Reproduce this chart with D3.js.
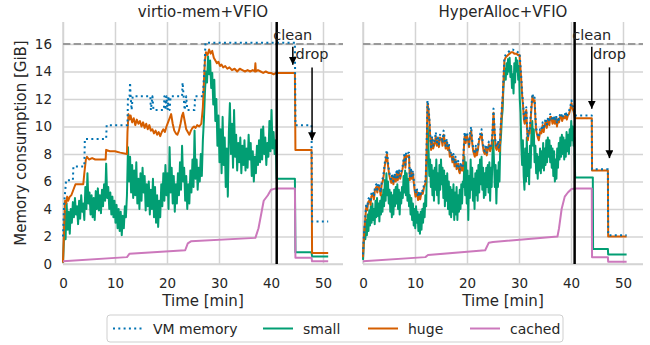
<!DOCTYPE html>
<html>
<head>
<meta charset="utf-8">
<script src="https://cdn.jsdelivr.net/npm/d3@7"></script>
<style>
  body { margin: 0; background: #fff; }
  svg { font-family: "DejaVu Sans", sans-serif; }
</style>
</head>
<body>
<svg id="chart" width="650" height="345"></svg>
<script>
// ---- data ----
const xTicks = [0, 10, 20, 30, 40, 50];
const yTicks = [0, 2, 4, 6, 8, 10, 12, 14, 16];
const titles = ["virtio-mem+VFIO", "HyperAlloc+VFIO"];
const seriesNames = ["VM memory", "small", "huge", "cached"];
const limitGiB = 16;
const cleanTimes = [41.1, 40.7];

// virtio-mem+VFIO, [minutes, GiB]
const L_vm = [[0,2.0],[0.2,4.3],[0.6,6.1],[1.9,6.1],[2.0,7.1],[4.1,7.1],[4.2,9.1],[8.3,9.1],[8.4,10.1],[12.4,10.1],[12.5,12.2],[12.8,12.2],[12.9,13.2],[13.0,12.2],[13.2,11.2],[13.4,12.2],[16.8,12.2],[16.9,11.2],[17.2,12.2],[17.4,11.2],[19.4,11.2],[19.5,12.2],[19.7,11.2],[19.9,12.2],[20.1,11.2],[20.3,12.2],[20.5,11.2],[20.7,12.2],[22.9,12.2],[23.0,13.2],[23.2,12.2],[23.4,11.2],[23.7,12.2],[23.9,11.2],[25.3,11.2],[25.4,12.2],[26.9,12.2],[27.2,14.2],[27.4,16.1],[44.6,16.1],[44.7,10.1],[47.8,10.1],[47.9,3.1],[51.0,3.1]];
const L_small = [[0,0.1],[0.2,2.0],[0.4,3.8],[0.5,1.8],[0.7,4.4],[0.9,2.5],[1.1,3.8],[1.3,2.2],[1.5,4.0],[1.7,3.0],[1.9,4.5],[2.1,3.4],[2.3,4.8],[2.5,3.6],[2.7,4.2],[2.9,2.9],[3.1,4.6],[3.3,3.3],[3.5,5.0],[3.7,3.8],[3.9,4.4],[4.1,3.2],[4.3,5.6],[4.5,4.0],[4.7,6.6],[4.9,4.4],[5.1,5.2],[5.3,3.6],[5.5,5.0],[5.7,3.4],[5.9,4.8],[6.1,3.2],[6.3,5.3],[6.5,4.0],[6.7,5.5],[6.9,3.9],[7.1,5.0],[7.3,3.7],[7.5,5.4],[7.7,4.2],[7.9,5.8],[8.1,4.6],[8.3,7.3],[8.5,4.8],[8.7,5.6],[8.9,4.0],[9.1,5.2],[9.3,3.6],[9.5,4.9],[9.7,3.4],[9.9,4.6],[10.1,3.0],[10.3,4.3],[10.5,2.6],[10.7,4.0],[10.9,2.4],[11.1,3.8],[11.3,2.1],[11.5,3.5],[11.7,2.6],[11.9,4.2],[12.1,3.4],[12.3,5.0],[12.5,8.5],[12.7,6.0],[12.9,7.8],[13.1,5.2],[13.3,7.2],[13.5,4.8],[13.7,6.8],[13.9,5.0],[14.1,7.4],[14.3,4.4],[14.5,6.2],[14.7,4.0],[14.9,6.6],[15.1,4.6],[15.3,7.0],[15.5,5.2],[15.7,6.4],[15.9,3.9],[16.1,5.8],[16.3,4.2],[16.5,6.0],[16.7,3.6],[16.9,5.4],[17.1,4.0],[17.3,6.2],[17.5,3.4],[17.7,5.6],[17.9,3.0],[18.1,5.0],[18.3,2.7],[18.5,4.6],[18.7,3.4],[18.9,5.8],[19.1,4.2],[19.3,6.6],[19.5,4.6],[19.7,7.2],[19.9,5.0],[20.1,6.6],[20.3,4.0],[20.5,8.5],[20.7,5.2],[20.9,7.0],[21.1,4.4],[21.3,6.4],[21.5,3.8],[21.7,5.8],[21.9,4.4],[22.1,6.6],[22.3,5.0],[22.5,7.4],[22.7,5.4],[22.9,8.6],[23.1,6.0],[23.3,7.0],[23.5,4.6],[23.7,6.4],[23.9,4.0],[24.1,5.8],[24.3,4.4],[24.5,6.8],[24.7,5.2],[24.9,7.6],[25.1,5.6],[25.3,9.7],[25.5,6.2],[25.7,7.6],[25.9,5.4],[26.1,7.0],[26.3,6.0],[26.5,8.0],[26.7,6.4],[26.9,9.0],[27.1,10.5],[27.3,12.5],[27.5,14.0],[27.7,13.2],[27.9,15.1],[28.1,13.8],[28.3,14.8],[28.5,12.8],[28.7,13.9],[28.9,11.6],[29.1,13.4],[29.3,10.4],[29.5,12.0],[29.7,8.6],[29.9,10.8],[30.1,7.4],[30.3,9.8],[30.5,6.6],[30.7,10.7],[30.9,7.2],[31.1,9.2],[31.3,5.6],[31.5,8.4],[31.7,4.9],[31.9,9.6],[32.1,11.7],[32.3,8.0],[32.5,10.2],[32.7,7.0],[32.9,11.2],[33.1,7.8],[33.3,9.4],[33.5,6.8],[33.7,8.8],[33.9,7.4],[34.1,9.2],[34.3,6.6],[34.5,8.6],[34.7,7.2],[34.9,9.0],[35.1,6.8],[35.3,8.4],[35.5,7.0],[35.7,9.4],[35.9,7.6],[36.1,8.8],[36.3,6.4],[36.5,8.2],[36.7,6.0],[36.9,7.8],[37.1,6.6],[37.3,8.6],[37.5,7.2],[37.7,9.0],[37.9,7.4],[38.1,9.8],[38.3,7.6],[38.5,10.0],[38.7,8.0],[38.9,9.2],[39.1,7.2],[39.3,8.8],[39.5,7.8],[39.7,10.4],[39.9,8.2],[40.1,11.2],[40.3,8.4],[40.5,9.6],[40.7,8.0],[40.9,9.0],[41.1,6.2],[44.6,6.2],[44.7,0.85],[47.8,0.85],[47.9,0.55],[51.0,0.55]];
const L_huge = [[0,0.1],[0.2,2.5],[0.4,4.6],[0.6,4.4],[0.8,4.9],[1.0,4.6],[1.3,4.9],[1.6,5.0],[2.0,5.4],[2.4,5.8],[3.9,5.8],[4.1,6.6],[4.4,7.6],[4.6,7.8],[5.0,7.6],[5.6,7.7],[6.2,7.6],[7.0,7.6],[8.2,7.6],[8.3,8.3],[9.0,8.2],[10.0,8.2],[11.0,8.1],[12.3,8.0],[12.4,9.6],[12.6,10.9],[12.8,10.5],[13.0,10.8],[13.3,10.3],[13.6,10.6],[13.9,10.1],[14.2,10.5],[14.5,10.2],[14.8,10.4],[15.1,10.0],[15.4,10.3],[15.7,9.9],[16.0,10.2],[16.3,9.8],[16.6,10.1],[16.9,9.7],[17.2,9.8],[17.5,9.5],[17.8,9.7],[18.1,9.4],[18.4,9.6],[18.7,9.3],[19.0,9.6],[19.3,9.8],[19.6,9.6],[19.9,10.0],[20.2,10.3],[20.5,10.6],[20.8,10.9],[21.1,10.2],[21.4,9.7],[21.7,9.5],[22.0,9.4],[22.3,9.7],[22.6,10.2],[22.9,10.8],[23.1,11.0],[23.4,10.4],[23.7,9.8],[24.0,9.6],[24.3,9.4],[24.6,9.7],[24.9,9.9],[25.2,10.0],[25.5,9.9],[25.8,10.1],[26.2,10.0],[26.6,10.2],[26.9,11.4],[27.1,13.2],[27.3,14.8],[27.5,15.4],[27.8,15.2],[28.1,15.6],[28.4,15.3],[28.7,15.5],[29.0,15.0],[29.3,14.8],[29.6,14.6],[29.9,14.7],[30.2,14.4],[30.5,14.5],[30.8,14.3],[31.2,14.4],[31.6,14.2],[32.0,14.3],[32.5,14.1],[33.0,14.2],[33.5,14.0],[34.0,14.2],[34.5,14.1],[35.0,14.0],[35.5,14.1],[36.0,14.0],[36.5,14.1],[36.9,14.0],[37.0,14.6],[37.1,14.0],[37.5,14.1],[38.0,14.0],[38.5,13.9],[39.0,14.0],[39.5,13.9],[40.0,13.9],[40.5,13.8],[41.0,13.9],[44.6,13.9],[44.7,8.3],[47.8,8.3],[47.9,0.8],[51.0,0.8]];
const L_cached = [[0,0.2],[12.3,0.5],[12.8,0.75],[23.5,1.0],[24.0,1.5],[24.6,1.65],[37.0,1.9],[37.6,2.6],[38.6,4.6],[39.4,5.0],[40.0,5.4],[41.0,5.5],[44.6,5.5],[44.7,0.45],[47.8,0.45],[47.9,0.2],[51.0,0.2]];

// HyperAlloc+VFIO, [minutes, GiB]
const R_vm = [[0,0.7],[0.15,2.0],[0.32,2.9],[0.5,3.8],[0.64,4.4],[0.8,4.1],[1.0,4.7],[1.28,4.9],[1.45,4.5],[1.6,5.1],[1.92,5.3],[2.1,4.9],[2.3,5.6],[2.56,5.8],[2.75,5.4],[2.95,5.9],[3.2,5.7],[3.4,5.2],[3.6,6.0],[3.85,6.3],[4.0,6.7],[4.17,7.3],[4.4,7.9],[4.6,8.3],[4.8,7.4],[5.0,6.8],[5.2,6.4],[5.45,6.1],[5.65,6.6],[5.85,6.0],[6.1,6.6],[6.3,6.2],[6.5,6.9],[6.7,6.3],[6.9,6.9],[7.15,6.4],[7.4,6.8],[7.6,7.1],[7.8,7.6],[8.0,8.1],[8.15,7.2],[8.3,8.2],[8.6,8.1],[8.85,8.1],[9.0,6.3],[9.2,7.0],[9.4,6.4],[9.6,6.8],[9.85,5.8],[10.1,5.1],[10.35,5.5],[10.6,4.9],[10.8,5.3],[11.0,4.9],[11.25,5.4],[11.5,5.3],[11.75,5.8],[12.05,6.1],[12.25,8.8],[12.4,11.9],[12.6,11.4],[12.8,10.4],[12.95,9.2],[13.1,8.5],[13.3,9.3],[13.5,8.6],[13.8,9.0],[14.0,9.6],[14.2,8.8],[14.4,9.2],[14.6,8.7],[14.8,9.4],[15.1,9.3],[15.3,8.8],[15.5,9.7],[15.7,9.2],[15.9,8.6],[16.1,9.1],[16.3,8.5],[16.5,8.8],[16.7,8.0],[17.0,8.2],[17.2,7.6],[17.4,8.0],[17.6,7.3],[17.8,7.8],[18.0,7.1],[18.3,7.5],[18.5,6.9],[18.6,6.8],[18.8,7.4],[19.0,7.0],[19.2,7.0],[19.4,8.6],[19.55,9.6],[19.75,9.0],[19.95,9.6],[20.2,9.2],[20.4,8.7],[20.6,9.5],[20.8,10.0],[21.0,9.0],[21.2,8.4],[21.5,8.0],[21.7,8.6],[21.9,8.1],[22.1,8.5],[22.3,9.1],[22.5,9.4],[22.8,9.8],[23.0,8.9],[23.2,8.4],[23.4,8.2],[23.6,8.7],[23.8,8.1],[24.0,8.5],[24.2,8.9],[24.45,8.4],[24.7,8.7],[24.9,9.6],[25.1,11.3],[25.3,9.8],[25.5,8.7],[25.7,8.5],[26.0,9.0],[26.15,8.4],[26.3,8.4],[26.45,9.8],[26.6,10.7],[26.75,11.6],[26.9,12.4],[27.05,13.8],[27.2,15.0],[27.4,15.2],[27.6,15.3],[27.9,15.4],[28.2,15.5],[28.5,15.6],[28.8,15.6],[29.1,15.5],[29.5,15.5],[29.8,15.4],[30.1,15.4],[30.25,14.6],[30.4,13.8],[30.6,12.5],[30.8,11.6],[30.95,10.7],[31.1,10.4],[31.25,11.1],[31.4,11.4],[31.55,10.0],[31.7,9.2],[31.9,9.8],[32.05,9.7],[32.3,11.0],[32.45,11.8],[32.6,12.4],[32.8,12.0],[33.0,12.1],[33.15,10.8],[33.3,9.9],[33.55,9.5],[33.8,9.2],[34.05,9.8],[34.3,9.7],[34.55,10.3],[34.75,9.8],[34.9,10.2],[35.15,10.6],[35.35,10.1],[35.6,10.7],[35.85,10.3],[36.0,10.9],[36.2,10.9],[36.45,10.4],[36.7,10.8],[36.9,10.4],[37.15,10.8],[37.3,10.2],[37.5,10.7],[37.7,10.5],[37.9,10.9],[38.1,11.0],[38.3,10.6],[38.55,10.9],[38.8,10.8],[39.0,11.1],[39.2,10.7],[39.4,11.0],[39.6,11.1],[39.85,11.4],[40.1,11.9],[40.3,11.5],[40.5,11.3],[40.75,10.8],[41.0,10.8],[44.0,10.8],[44.05,6.9],[47.1,6.9],[47.15,2.1],[50.7,2.1]];
const R_small = [[0,0.3],[0.15,1.5],[0.3,2.6],[0.45,1.8],[0.6,3.2],[0.75,2.1],[0.9,3.6],[1.05,2.4],[1.2,3.9],[1.35,2.8],[1.5,4.2],[1.65,3.0],[1.8,4.4],[1.95,3.2],[2.1,4.0],[2.25,2.9],[2.4,4.6],[2.55,3.4],[2.7,4.8],[2.85,3.5],[3.0,4.4],[3.15,3.1],[3.3,4.6],[3.45,3.6],[3.6,5.0],[3.75,3.8],[3.9,5.4],[4.05,4.2],[4.2,6.1],[4.35,4.6],[4.5,6.6],[4.65,5.0],[4.8,6.0],[4.95,4.4],[5.1,5.4],[5.25,3.8],[5.4,5.2],[5.55,3.4],[5.7,5.0],[5.85,3.6],[6.0,5.4],[6.15,4.2],[6.3,5.6],[6.45,4.4],[6.6,5.8],[6.75,4.0],[6.9,5.4],[7.05,3.6],[7.2,5.2],[7.35,4.4],[7.5,5.6],[7.65,4.8],[7.8,6.4],[7.95,5.2],[8.1,6.8],[8.25,5.0],[8.4,6.6],[8.55,4.6],[8.7,6.2],[8.85,4.2],[9.0,5.0],[9.15,3.6],[9.3,4.8],[9.45,3.2],[9.6,4.4],[9.75,2.8],[9.9,4.0],[10.05,2.6],[10.2,4.2],[10.35,3.0],[10.5,3.8],[10.65,2.4],[10.8,3.6],[10.95,2.2],[11.1,3.8],[11.25,2.5],[11.4,4.0],[11.55,3.0],[11.7,4.4],[11.85,3.4],[12.0,5.0],[12.15,4.2],[12.3,7.6],[12.45,10.0],[12.6,8.4],[12.75,6.4],[12.9,7.6],[13.05,5.6],[13.2,7.2],[13.35,5.0],[13.5,6.8],[13.65,4.6],[13.8,7.0],[13.95,5.4],[14.1,7.6],[14.25,5.0],[14.4,6.6],[14.55,4.4],[14.7,7.2],[14.85,5.4],[15.0,7.6],[15.15,5.8],[15.3,7.0],[15.45,4.8],[15.6,6.8],[15.75,4.2],[15.9,6.4],[16.05,4.6],[16.2,6.6],[16.35,4.0],[16.5,6.0],[16.65,3.6],[16.8,5.6],[16.95,3.4],[17.1,5.4],[17.25,3.8],[17.4,5.8],[17.55,3.2],[17.7,5.2],[17.85,3.6],[18.0,5.6],[18.15,3.2],[18.3,5.0],[18.45,3.8],[18.6,5.4],[18.75,4.0],[18.9,5.8],[19.05,4.4],[19.2,6.0],[19.35,5.6],[19.5,7.8],[19.65,5.0],[19.8,7.4],[19.95,4.4],[20.1,6.8],[20.25,3.2],[20.4,6.4],[20.55,4.8],[20.7,7.6],[20.85,5.4],[21.0,7.0],[21.15,4.6],[21.3,6.2],[21.45,4.0],[21.6,6.6],[21.75,5.0],[21.9,6.8],[22.05,4.6],[22.2,7.2],[22.35,5.2],[22.5,7.6],[22.65,5.8],[22.8,7.8],[22.95,5.4],[23.1,7.0],[23.25,4.8],[23.4,6.6],[23.55,5.0],[23.7,7.0],[23.85,5.6],[24.0,7.2],[24.15,5.2],[24.3,7.4],[24.45,4.6],[24.6,7.0],[24.75,5.6],[24.9,8.0],[25.05,9.0],[25.2,7.4],[25.35,5.6],[25.5,7.2],[25.65,4.4],[25.8,6.8],[25.95,5.6],[26.1,7.4],[26.25,6.0],[26.4,8.6],[26.55,9.4],[26.7,10.6],[26.85,11.2],[27.0,12.8],[27.15,13.6],[27.3,14.2],[27.45,13.4],[27.6,14.6],[27.75,13.8],[27.9,14.9],[28.05,14.0],[28.2,15.0],[28.35,13.6],[28.5,14.4],[28.65,12.8],[28.8,13.8],[28.95,12.4],[29.1,14.6],[29.25,13.2],[29.4,15.0],[29.55,14.0],[29.7,14.8],[29.85,13.4],[30.0,14.4],[30.15,12.0],[30.3,11.0],[30.45,8.6],[30.6,7.2],[30.75,9.0],[30.9,6.4],[31.05,5.4],[31.2,8.4],[31.35,6.0],[31.5,9.2],[31.65,6.4],[31.8,8.0],[31.95,5.8],[32.1,8.6],[32.25,7.0],[32.4,9.6],[32.55,10.4],[32.7,8.6],[32.85,9.8],[33.0,7.4],[33.15,8.6],[33.3,6.6],[33.45,8.0],[33.6,6.2],[33.75,7.8],[33.9,6.8],[34.05,8.4],[34.2,6.6],[34.35,8.2],[34.5,7.0],[34.65,8.8],[34.8,6.8],[34.95,8.4],[35.1,7.2],[35.25,9.0],[35.4,7.4],[35.55,9.2],[35.7,7.8],[35.85,9.0],[36.0,7.4],[36.15,8.6],[36.3,7.0],[36.45,8.4],[36.6,6.4],[36.75,8.2],[36.9,6.0],[37.05,7.6],[37.2,6.2],[37.35,8.4],[37.5,7.0],[37.65,8.8],[37.8,7.6],[37.95,9.2],[38.1,7.8],[38.25,9.4],[38.4,8.0],[38.55,9.2],[38.7,7.6],[38.85,9.0],[39.0,7.8],[39.15,9.6],[39.3,8.2],[39.45,9.4],[39.6,8.0],[39.75,9.8],[39.9,8.6],[40.05,10.4],[40.2,9.0],[40.35,10.0],[40.5,8.6],[40.65,9.2],[40.8,6.3],[44.2,6.3],[44.25,1.1],[47.1,1.1],[47.15,0.7],[50.7,0.7]];
const R_huge = [[0,0.5],[0.15,1.8],[0.32,2.7],[0.5,3.6],[0.64,4.2],[0.8,3.9],[1.0,4.5],[1.28,4.65],[1.45,4.3],[1.6,4.9],[1.92,5.1],[2.1,4.7],[2.3,5.4],[2.56,5.6],[2.75,5.2],[2.95,5.7],[3.2,5.5],[3.4,5.0],[3.6,5.8],[3.85,6.1],[4.0,6.5],[4.17,7.1],[4.4,7.6],[4.6,8.0],[4.8,7.2],[5.0,6.6],[5.2,6.2],[5.45,5.9],[5.65,6.4],[5.85,5.8],[6.1,6.4],[6.3,6.0],[6.5,6.6],[6.7,6.1],[6.9,6.7],[7.15,6.2],[7.4,6.6],[7.6,6.9],[7.8,7.4],[8.0,7.8],[8.15,7.0],[8.3,7.9],[8.6,7.8],[8.85,7.9],[9.0,6.1],[9.2,6.8],[9.4,6.2],[9.6,6.6],[9.85,5.6],[10.1,4.9],[10.35,5.3],[10.6,4.65],[10.8,5.1],[11.0,4.7],[11.25,5.2],[11.5,5.1],[11.75,5.6],[12.05,5.9],[12.25,8.5],[12.4,11.7],[12.6,11.2],[12.8,10.2],[12.95,9.0],[13.1,8.3],[13.3,9.1],[13.5,8.4],[13.8,8.8],[14.0,9.3],[14.2,8.6],[14.4,9.0],[14.6,8.5],[14.8,9.2],[15.1,9.1],[15.3,8.6],[15.5,9.4],[15.7,9.0],[15.9,8.4],[16.1,8.9],[16.3,8.3],[16.5,8.6],[16.7,7.8],[17.0,8.0],[17.2,7.4],[17.4,7.8],[17.6,7.1],[17.8,7.6],[18.0,6.9],[18.3,7.3],[18.5,6.7],[18.6,6.6],[18.8,7.2],[19.0,6.8],[19.2,6.8],[19.4,8.4],[19.55,9.3],[19.75,8.8],[19.95,9.4],[20.2,9.0],[20.4,8.5],[20.6,9.3],[20.8,9.7],[21.0,8.8],[21.2,8.2],[21.5,7.8],[21.7,8.4],[21.9,7.9],[22.1,8.3],[22.3,8.9],[22.5,9.2],[22.8,9.5],[23.0,8.7],[23.2,8.2],[23.4,8.0],[23.6,8.5],[23.8,7.9],[24.0,8.3],[24.2,8.7],[24.45,8.2],[24.7,8.5],[24.9,9.4],[25.1,11.0],[25.3,9.6],[25.5,8.5],[25.7,8.3],[26.0,8.8],[26.15,8.2],[26.3,8.2],[26.45,9.6],[26.6,10.5],[26.75,11.4],[26.9,12.2],[27.05,13.6],[27.2,14.8],[27.4,15.0],[27.6,15.1],[27.9,15.2],[28.2,15.3],[28.5,15.4],[28.8,15.4],[29.1,15.3],[29.5,15.3],[29.8,15.2],[30.1,15.2],[30.25,14.4],[30.4,13.6],[30.6,12.3],[30.8,11.4],[30.95,10.5],[31.1,10.2],[31.25,10.9],[31.4,11.2],[31.55,9.8],[31.7,9.0],[31.9,9.6],[32.05,9.5],[32.3,10.8],[32.45,11.6],[32.6,12.2],[32.8,11.8],[33.0,11.9],[33.15,10.6],[33.3,9.7],[33.55,9.3],[33.8,9.0],[34.05,9.6],[34.3,9.5],[34.55,10.1],[34.75,9.6],[34.9,10.0],[35.15,10.4],[35.35,9.9],[35.6,10.5],[35.85,10.1],[36.0,10.7],[36.2,10.7],[36.45,10.2],[36.7,10.6],[36.9,10.2],[37.15,10.6],[37.3,10.0],[37.5,10.5],[37.7,10.3],[37.9,10.7],[38.1,10.8],[38.3,10.4],[38.55,10.7],[38.8,10.6],[39.0,10.9],[39.2,10.5],[39.4,10.8],[39.6,10.9],[39.85,11.2],[40.1,11.7],[40.3,11.3],[40.5,11.1],[40.75,10.6],[41.0,10.6],[44.0,10.6],[44.05,6.8],[47.1,6.8],[47.15,2.0],[50.7,2.0]];
const R_cached = [[0,0.2],[12.0,0.5],[12.5,0.65],[23.5,1.0],[24.2,1.55],[25.0,1.6],[37.4,2.0],[37.7,2.6],[38.2,4.0],[38.8,4.9],[39.4,5.2],[40.1,5.45],[41.0,5.5],[44.0,5.5],[44.05,0.5],[47.1,0.5],[47.15,0.17],[50.7,0.17]];

// annotations: label, time, arrow start / tip in GiB
const L_notes = [["clean", 44.2, 15.8, 14.5], ["drop", 47.9, 14.3, 9.0]];
const R_notes = [["clean", 44.0, 15.8, 11.3], ["drop", 47.4, 14.3, 7.7]];

// ---- drawing ----
const colors = { vm: "#0173b2", small: "#029e73", huge: "#d55e00", cached: "#cc78bc" };
const txt = "#262626", grid = "#d4d4d4";
const svg = d3.select("#chart");
const yTop = 22, yBottom = 264, panelW = 280;

svg.append("defs").append("marker")
  .attr("id", "head").attr("viewBox", "0 0 10 10")
  .attr("refX", 10).attr("refY", 5)
  .attr("markerUnits", "userSpaceOnUse")
  .attr("markerWidth", 8).attr("markerHeight", 8)
  .attr("orient", "auto")
  .append("path").attr("d", "M0,0 L10,5 L0,10 z").attr("fill", "#000");

const y = d3.scaleLinear().domain([0, 17.6]).range([yBottom, yTop]);

const panels = [
  { left: 63, title: titles[0], vm: L_vm, small: L_small, huge: L_huge, cached: L_cached, clean: cleanTimes[0], notes: L_notes, yLabels: true },
  { left: 363, title: titles[1], vm: R_vm, small: R_small, huge: R_huge, cached: R_cached, clean: cleanTimes[1], notes: R_notes, yLabels: false }
];

panels.forEach(p => {
  const x = d3.scaleLinear().domain([0, 53.85]).range([p.left, p.left + panelW]);
  const g = svg.append("g");

  // grid via axes
  const gx = g.append("g").attr("transform", `translate(0,${yBottom})`)
    .call(d3.axisBottom(x).tickValues(xTicks).tickSize(-(yBottom - yTop)).tickPadding(14));
  const gy = g.append("g").attr("transform", `translate(${p.left},0)`)
    .call(d3.axisLeft(y).tickValues(yTicks).tickSize(-panelW).tickPadding(11)
      .tickFormat(p.yLabels ? d3.format("d") : () => ""));
  [gx, gy].forEach(a => {
    a.select(".domain").remove();
    a.selectAll(".tick line").attr("stroke", grid).attr("stroke-width", 1.5);
    a.selectAll(".tick text").attr("fill", txt).style("font-size", "13.5px")
      .style("font-family", "DejaVu Sans");
  });
  // spines
  g.append("line").attr("x1", p.left).attr("x2", p.left).attr("y1", yTop).attr("y2", yBottom)
    .attr("stroke", grid).attr("stroke-width", 1.5);
  g.append("line").attr("x1", p.left).attr("x2", p.left + panelW).attr("y1", yBottom).attr("y2", yBottom)
    .attr("stroke", grid).attr("stroke-width", 1.5);

  // 16 GiB limit
  g.append("line").attr("x1", p.left).attr("x2", p.left + panelW)
    .attr("y1", y(limitGiB)).attr("y2", y(limitGiB))
    .attr("stroke", "#9a9a9a").attr("stroke-width", 2).attr("stroke-dasharray", "7.4,3.2");

  const line = d3.line().x(d => x(d[0])).y(d => y(d[1]));
  const draw = (data, c, dash) => g.append("path").datum(data).attr("d", line)
    .attr("fill", "none").attr("stroke", c).attr("stroke-width", 2)
    .attr("stroke-linejoin", "round")
    .attr("stroke-dasharray", dash || null);
  draw(p.small, colors.small);
  draw(p.huge, colors.huge);
  draw(p.cached, colors.cached);
  draw(p.vm, colors.vm, "2,3.3");

  // clean marker
  g.append("line").attr("x1", x(p.clean)).attr("x2", x(p.clean))
    .attr("y1", yTop).attr("y2", yBottom).attr("stroke", "#000").attr("stroke-width", 2.5);

  // annotations
  p.notes.forEach(([label, t, from, tip], i) => {
    g.append("text").attr("x", x(t)).attr("y", i === 0 ? 40 : 59)
      .attr("text-anchor", "middle").attr("fill", txt)
      .style("font-size", "14.5px").text(label);
    g.append("line").attr("x1", x(t)).attr("x2", x(t))
      .attr("y1", y(from)).attr("y2", y(tip))
      .attr("stroke", "#000").attr("stroke-width", 1.5)
      .attr("marker-end", "url(#head)");
  });

  // titles & axis labels
  g.append("text").attr("x", p.left + panelW / 2).attr("y", 17)
    .attr("text-anchor", "middle").attr("fill", txt).style("font-size", "15px").text(p.title);
  g.append("text").attr("x", p.left + panelW / 2).attr("y", 305.5)
    .attr("text-anchor", "middle").attr("fill", txt).style("font-size", "15px").text("Time [min]");
});

svg.append("text").attr("transform", `translate(26,${(yTop + yBottom) / 2}) rotate(-90)`)
  .attr("text-anchor", "middle").attr("fill", txt).style("font-size", "15px")
  .text("Memory consumption [GiB]");

// legend
const leg = svg.append("g");
leg.append("rect").attr("x", 107).attr("y", 315).attr("width", 456).attr("height", 27)
  .attr("rx", 3).attr("fill", "#fff").attr("stroke", "#cfcfcf");
const legItems = [
  { name: seriesNames[0], c: colors.vm, dash: "2,3.3", x: 113 },
  { name: seriesNames[1], c: colors.small, x: 263 },
  { name: seriesNames[2], c: colors.huge, x: 368 },
  { name: seriesNames[3], c: colors.cached, x: 470 }
];
legItems.forEach(d => {
  leg.append("line").attr("x1", d.x).attr("x2", d.x + 30).attr("y1", 328.5).attr("y2", 328.5)
    .attr("stroke", d.c).attr("stroke-width", 2).attr("stroke-dasharray", d.dash || null);
  leg.append("text").attr("x", d.x + 40).attr("y", 333.5).attr("fill", txt)
    .style("font-size", "14px").text(d.name);
});
</script>
</body>
</html>
